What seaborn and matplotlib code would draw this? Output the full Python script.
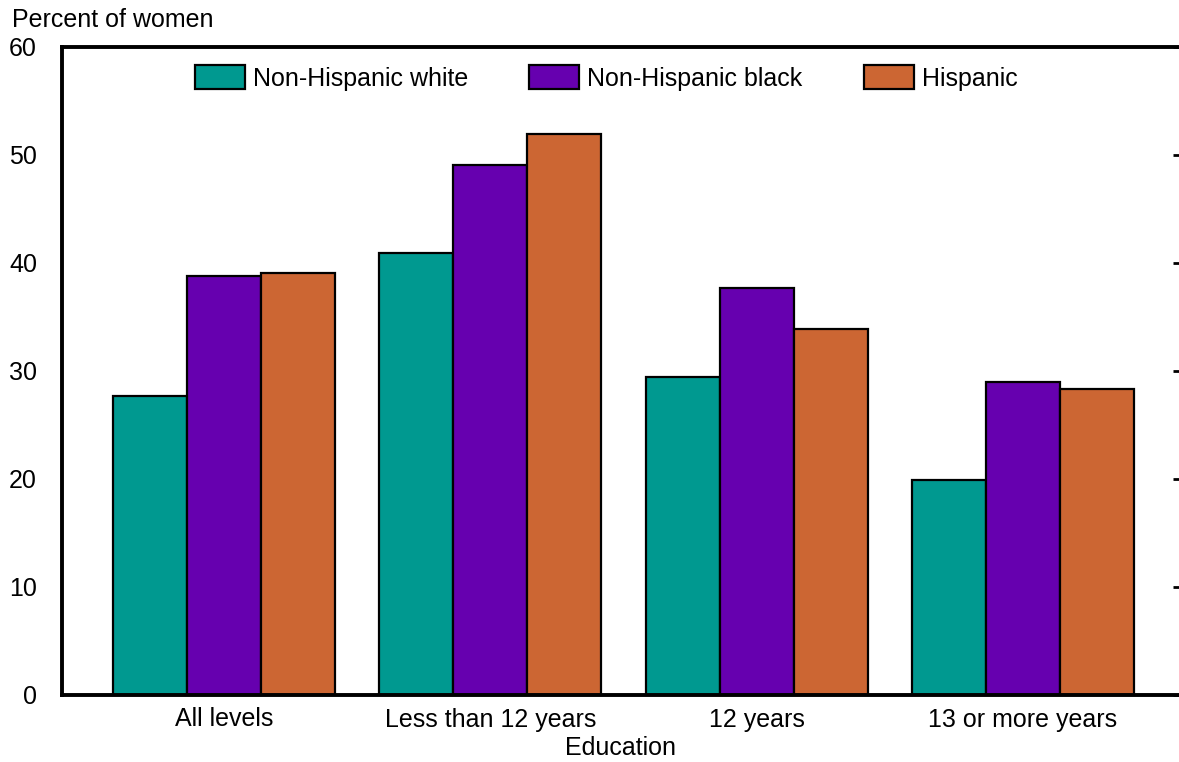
import numpy as np
import pandas as pd
import seaborn as sns
import matplotlib.pyplot as plt

# data
education = ["All levels", "Less than 12 years", "12 years", "13 or more years"]
groups = ["Non-Hispanic white", "Non-Hispanic black", "Hispanic"]
white = [27.7, 40.9, 29.4, 19.9]
black = [38.8, 49.1, 37.7, 29.0]
hispanic = [39.1, 51.9, 33.9, 28.3]
colors = ["#009990", "#6600AF", "#CC6633"]

df = pd.DataFrame({
    "Education": education * 3,
    "Group": [g for g in groups for _ in education],
    "Percent": white + black + hispanic,
})

sns.set_style("white")
plt.rcParams['font.family'] = ['Liberation Sans', 'DejaVu Sans']
plt.rcParams['text.color'] = 'black'
plt.rcParams['axes.labelcolor'] = 'black'
plt.rcParams['xtick.color'] = 'black'
plt.rcParams['ytick.color'] = 'black'

fs = 18

fig = plt.figure(figsize=(11.79, 7.62), dpi=100)
ax = fig.add_axes([62 / 1179, 1 - 695 / 762, 1 - 62 / 1179, (695 - 47) / 762])

sns.barplot(data=df, x="Education", y="Percent", hue="Group", order=education,
            hue_order=groups, palette=colors, width=0.834, edgecolor="black",
            linewidth=1.6, saturation=1, ax=ax)

ax.set_ylim(0, 60)
ax.set_xlim(-0.608, 3.586)
ax.set_yticks(range(0, 61, 10))
ax.set_ylabel("")
ax.set_xlabel("Education", fontsize=fs, labelpad=3)

for s in ["top", "left", "bottom"]:
    ax.spines[s].set_linewidth(2.8)
    ax.spines[s].set_color("black")
ax.spines["right"].set_visible(False)

ax.tick_params(axis='x', length=0, pad=9, labelsize=fs)
ax.tick_params(axis='y', left=False, right=True, labelleft=True, direction='in',
               length=4, width=2, pad=18, labelsize=fs)
for lbl in ax.get_yticklabels():
    lbl.set_horizontalalignment('right')

fig.text(12 / 1179, 1 - 27 / 762, "Percent of women", fontsize=fs, ha='left', va='baseline')

ax.legend(loc='center', bbox_to_anchor=(0.487, (695 - 78) / 648), ncol=3, frameon=False,
          fontsize=fs, handlelength=2.0, handleheight=1.05, handletextpad=0.32,
          columnspacing=2.45, title=None)

fig.savefig("out.png", dpi=100)
